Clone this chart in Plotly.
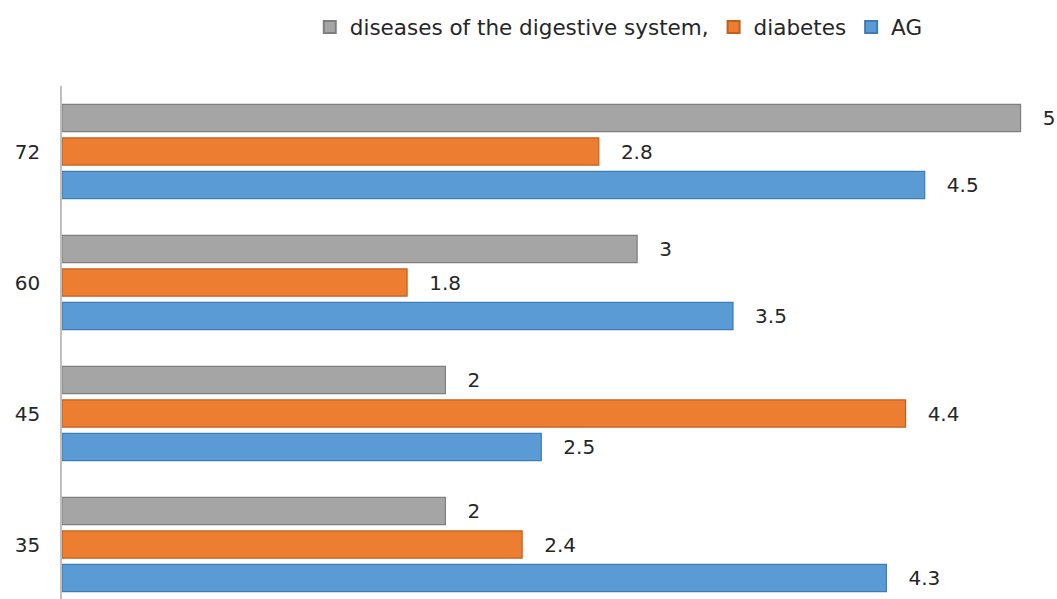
import plotly.graph_objects as go

ages = ["35", "45", "60", "72"]
ag = [4.3, 2.5, 3.5, 4.5]
diabetes = [2.4, 4.4, 1.8, 2.8]
digestive = [2, 2, 3, 5]

series = [
    ("AG", ag, "#5B9BD5", "#3F7BB5"),
    ("diabetes", diabetes, "#ED7D31", "#C0601F"),
    ("diseases of the digestive system,", digestive, "#A5A5A5", "#7F7F7F"),
]

FONT = "DejaVu Sans"

fig = go.Figure()
for name, vals, color, edge in series:
    fig.add_trace(go.Bar(
        y=ages, x=vals, name=name, orientation="h",
        marker=dict(color=color, line=dict(color=edge, width=1.2)),
        text=vals, texttemplate="\u00a0\u00a0\u00a0%{x}",
        textposition="outside", cliponaxis=False,
        textfont=dict(size=20, color="#262626", family=FONT),
    ))

fig.update_layout(
    width=1057, height=599,
    margin=dict(l=62, r=0, t=86, b=0),
    paper_bgcolor="white", plot_bgcolor="white",
    barmode="group", bargap=0.233, bargroupgap=0.19,
    font=dict(family=FONT, size=18, color="#262626"),
    showlegend=True,
    legend=dict(orientation="h", traceorder="reversed",
                x=0.249, xanchor="left", y=1.115, yanchor="middle",
                font=dict(size=21.5, color="#262626", family=FONT),
                itemwidth=30, itemsizing="constant"),
    xaxis=dict(range=[0, 5.19], visible=False),
    yaxis=dict(type="category", range=[-0.416, 3.5],
               showline=True, linecolor="#BFBFBF", linewidth=1.5,
               showgrid=False, ticks="", ticklabelstandoff=16,
               tickfont=dict(size=20, color="#262626", family=FONT)),
)

fig.write_html("out.html")
